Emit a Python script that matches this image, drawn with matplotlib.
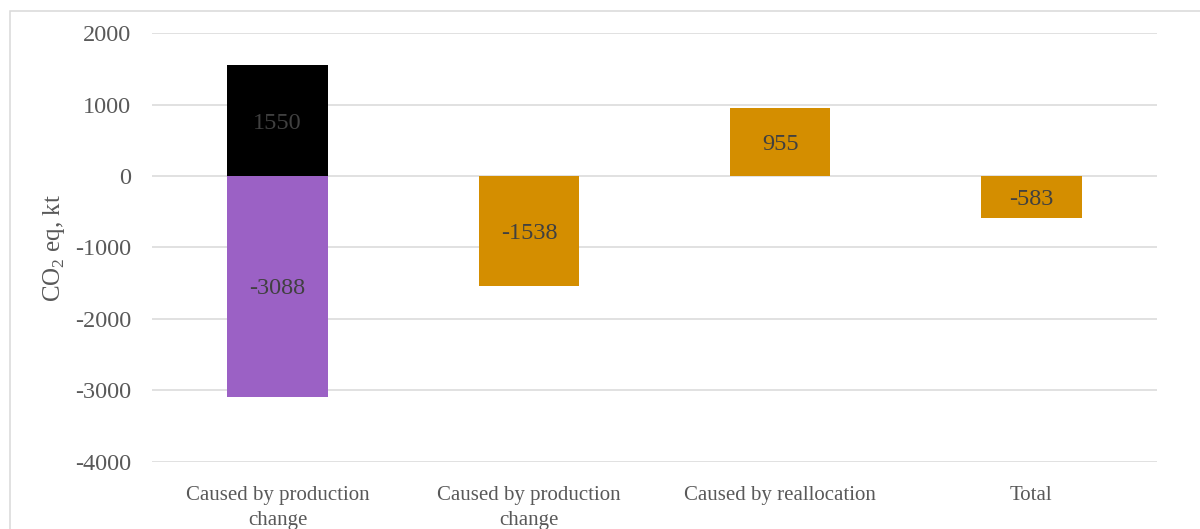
import matplotlib.pyplot as plt
from matplotlib.patches import Rectangle

plt.rcParams["font.family"] = ["Liberation Serif", "DejaVu Serif"]
plt.rcParams["mathtext.fontset"] = "custom"
plt.rcParams["mathtext.rm"] = "Liberation Serif"
plt.rcParams["axes.unicode_minus"] = False

categories = [
    "Caused by production\nchange",
    "Caused by production\nchange",
    "Caused by reallocation",
    "Total",
]
production_up = [1550, 0, 0, 0]
production_down = [-3088, 0, 0, 0]
other_change = [0, -1538, 955, -583]

black = "#000000"
purple = "#9B61C5"
orange = "#D48E00"
grid_color = "#D9D9D9"
text_color = "#595959"
label_color = "#404040"

fig = plt.figure(figsize=(12, 5.29), dpi=100)
ax = fig.add_axes([0.1267, 0.1267, 0.8375, 0.8109])

x = list(range(len(categories)))
width = 0.4

ax.bar(x, production_up, width, color=black, zorder=3)
ax.bar(x, production_down, width, color=purple, zorder=3)
ax.bar(x, other_change, width, color=orange, zorder=3)

# labels in the middle of each segment
for series in (production_up, production_down, other_change):
    for xi, v in zip(x, series):
        if v != 0:
            ax.text(xi, v / 2, f"{v}", ha="center", va="center_baseline",
                    fontsize=17.5, color=label_color, zorder=4)

ax.set_xlim(-0.5, len(categories) - 0.5)
ax.set_ylim(-4000, 2000)
ax.set_yticks(range(-4000, 2001, 1000))
ax.set_xticks(x)
ax.set_xticklabels(categories, linespacing=1.45)
ax.tick_params(axis="both", length=0, labelcolor=text_color)
ax.tick_params(axis="y", pad=15, labelsize=17.5)
ax.tick_params(axis="x", pad=17, labelsize=15)

ax.grid(axis="y", color=grid_color, linewidth=1.1, zorder=0)
for side in ax.spines.values():
    side.set_visible(False)

fig.text(54 / 1200, 1 - 248 / 529, "CO$_\\mathregular{2}$ eq, kt",
         rotation=90, ha="center", va="center", fontsize=18,
         color=text_color)

# chart area border (runs off the right and bottom edges)
fig.patches.append(Rectangle((10 / 1200, -0.1), 1.2, 1 - 11 / 529 + 0.1,
                             transform=fig.transFigure, fill=False,
                             edgecolor=grid_color, linewidth=1.1))

plt.savefig("out.png", dpi=100)
